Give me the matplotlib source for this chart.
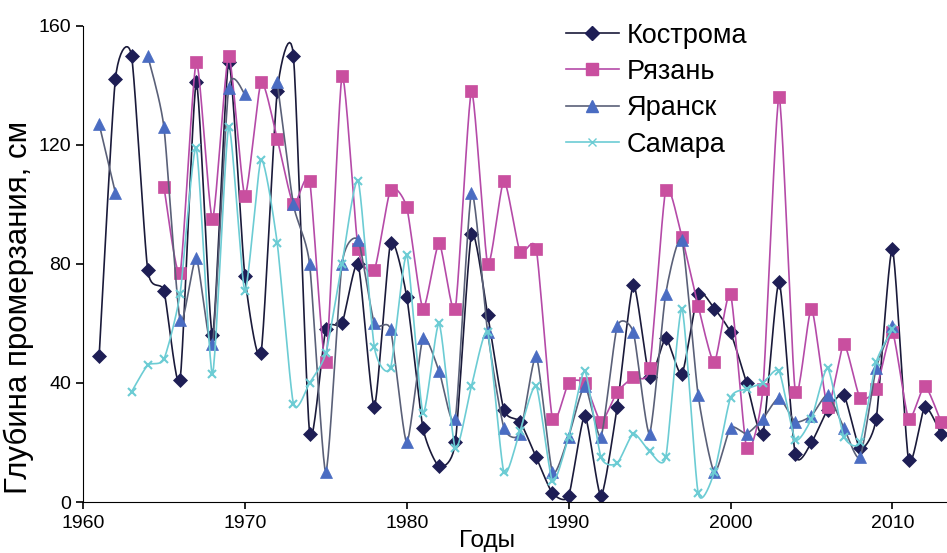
import numpy as np
import matplotlib
import matplotlib.pyplot as plt

matplotlib.use('Agg')

nan = np.nan
years = list(range(1961, 2014))

# depth of soil freezing, cm (one value per year, nan = no observation)
kostroma = [49, 142, 150, 78, 71, 41, 141, 56, 148, 76,
            50, 138, 150, 23, 58, 60, 80, 32, 87, 69,
            25, 12, 20, 90, 63, 31, 27, 15, 3, 2,
            29, 2, 32, 73, 42, 55, 43, 70, 65, 57,
            40, 23, 74, 16, 20, 31, 36, 18, 28, 85,
            14, 32, 23]
ryazan = [nan, nan, nan, nan, 106, 77, 148, 95, 150, 103,
          141, 122, 100, 108, 47, 143, 85, 78, 105, 99,
          65, 87, 65, 138, 80, 108, 84, 85, 28, 40,
          40, 27, 37, 42, 45, 105, 89, 66, 47, 70,
          18, 38, 136, 37, 65, 32, 53, 35, 38, 57,
          28, 39, 27]
yaransk = [127, 104, nan, 150, 126, 61, 82, 53, 139, 137,
           nan, 141, 100, 80, 10, 80, 88, 60, 58, 20,
           55, 44, 28, 104, 57, 25, 23, 49, 10, 22,
           39, 22, 59, 57, 23, 70, 88, 36, 10, 25,
           23, 28, 35, 27, 29, 36, 25, 15, 45, 59,
           nan, nan, nan]
samara = [nan, nan, 37, 46, 48, 70, 119, 43, 126, 71,
          115, 87, 33, 40, 50, 80, 108, 52, 45, 83,
          30, 60, 18, 39, 57, 10, 24, 39, 7, 22,
          44, 15, 13, 23, 17, 15, 65, 3, 10, 35,
          38, 40, 44, 21, 28, 45, 22, 20, 47, 58,
          nan, nan, nan]


def smooth(x, y, n=12, k_t=10.0):
    # cubic Bezier curve through each run of valid points (soft tension)
    x = np.asarray(x, float)
    y = np.asarray(y, float)
    ok = ~np.isnan(y)
    runs, cur = [], []
    for i in range(len(x)):
        if ok[i]:
            cur.append(i)
        elif cur:
            runs.append(cur)
            cur = []
    if cur:
        runs.append(cur)
    xs, ys = [], []
    for r in runs:
        px, py = x[r], y[r]
        if len(r) == 1:
            xs += [px[0], nan]
            ys += [py[0], nan]
            continue
        for k in range(len(r) - 1):
            p0 = (px[max(k - 1, 0)], py[max(k - 1, 0)])
            p1 = (px[k], py[k])
            p2 = (px[k + 1], py[k + 1])
            p3 = (px[min(k + 2, len(r) - 1)], py[min(k + 2, len(r) - 1)])
            c1 = (p1[0] + (p2[0] - p0[0]) / k_t, p1[1] + (p2[1] - p0[1]) / k_t)
            c2 = (p2[0] - (p3[0] - p1[0]) / k_t, p2[1] - (p3[1] - p1[1]) / k_t)
            t = np.linspace(0, 1, n)
            bx = (1-t)**3*p1[0] + 3*(1-t)**2*t*c1[0] + 3*(1-t)*t**2*c2[0] + t**3*p2[0]
            by = (1-t)**3*p1[1] + 3*(1-t)**2*t*c1[1] + 3*(1-t)*t**2*c2[1] + t**3*p2[1]
            xs += list(bx)
            ys += list(by)
        xs.append(nan)
        ys.append(nan)
    return xs, ys


plt.rcParams['font.family'] = ['Liberation Sans', 'DejaVu Sans']

fig = plt.figure(figsize=(9.47, 5.53), dpi=100)
ax = fig.add_axes([0.0876, 0.0922, 0.912, 0.861])

series = [
    ("Кострома", kostroma, "#1a1a3a", "#1e1e55", "D", 7),
    ("Рязань", ryazan, "#b54aa8", "#c94f9f", "s", 8),
    ("Яранск", yaransk, "#5a6078", "#4a6cc2", "^", 8.5),
    ("Самара", samara, "#6cccd4", "#6cccd4", "x", 6),
]

for label, vals, lcol, mcol, mk, ms in series:
    sx, sy = smooth(years, vals)
    ax.plot(sx, sy, color=lcol, lw=1.2)
    ax.plot(years, vals, ls="none", marker=mk, ms=ms, color=mcol,
            markeredgecolor=mcol, mew=1.5 if mk == "x" else 0.5)
    # legend proxy
    ax.plot([], [], color=lcol, lw=1.2, marker=mk, ms=ms, markerfacecolor=mcol,
            markeredgecolor=mcol, label=label)

ax.set_xlim(1960, 2013.35)
ax.set_ylim(0, 160)
ax.set_xticks(range(1960, 2011, 10))
ax.set_yticks(range(0, 161, 40))
ax.spines['top'].set_visible(False)
ax.spines['right'].set_visible(False)
ax.tick_params(labelsize=14, length=5, width=1.2, direction='out')
ax.tick_params(axis='x', pad=4)
ax.set_xlabel("Годы", fontsize=17.5)
ax.xaxis.set_label_coords(0.468, -0.058)
ax.set_ylabel("Глубина промерзания, см", fontsize=22.5)
ax.yaxis.set_label_coords(-0.057, 0.408)

ax.legend(loc="upper left", bbox_to_anchor=(0.531, 1.058), frameon=False,
          fontsize=19.5, handlelength=1.95, labelspacing=0.38, handletextpad=0.3)

fig.savefig("out.png", dpi=100)
